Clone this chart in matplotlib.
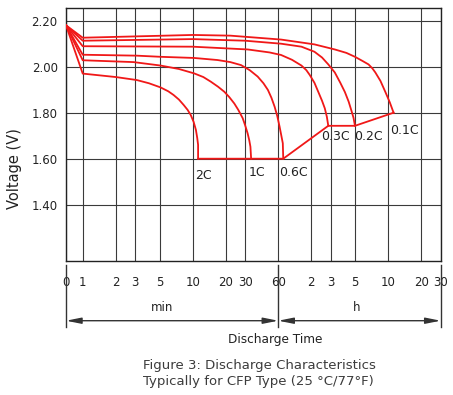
#!/usr/bin/env python

# ------------------------------------------------------------------------
# Imports

import numpy as np
import matplotlib
matplotlib.use('Agg')
import matplotlib.pyplot as plt
from matplotlib import transforms

# ------------------------------------------------------------------------
# Data (time in minutes, voltage in V)

t_2c = [0, 1, 2, 3.1, 4, 5.1, 6, 6.7, 7.5, 8.3, 9, 9.6, 10.2, 10.7, 11.0, 11.2, 11.2]
v_2c = [2.18, 1.970, 1.955, 1.942, 1.928, 1.910, 1.893, 1.877, 1.857, 1.833,
        1.812, 1.790, 1.760, 1.725, 1.690, 1.660, 1.60]

t_1c = [0, 1, 2.9, 5.1, 7.5, 10.3, 12.5, 14.6, 17, 19.4, 21.5, 23.9, 26, 28.5,
        30, 31.6, 32.7, 33.5, 34]
v_1c = [2.18, 2.028, 2.020, 2.005, 1.990, 1.971, 1.955, 1.935, 1.913, 1.891,
        1.868, 1.840, 1.812, 1.776, 1.745, 1.710, 1.680, 1.652, 1.60]

t_06c = [0, 1, 3.1, 5.1, 10.3, 16.8, 22, 27.5, 33, 39, 44, 48.3, 52, 55.6,
         58.8, 61.7, 64, 66, 66.6]
v_06c = [2.18, 2.052, 2.048, 2.043, 2.038, 2.029, 2.020, 2.007, 1.985, 1.957,
         1.928, 1.899, 1.865, 1.826, 1.785, 1.739, 1.700, 1.667, 1.60]

t_03c = [0, 1, 10, 31.6, 50, 63.6, 80, 97.5, 108, 116, 128, 138, 150, 159, 166, 171]
v_03c = [2.18, 2.089, 2.087, 2.075, 2.062, 2.051, 2.030, 2.005, 1.985, 1.964,
         1.930, 1.893, 1.852, 1.819, 1.782, 1.743]

t_02c = [0, 1, 10, 30, 63.6, 97.5, 128, 150, 171, 196, 220, 242, 262, 278, 290, 299]
v_02c = [2.18, 2.113, 2.120, 2.113, 2.100, 2.087, 2.065, 2.040, 2.010, 1.975,
         1.930, 1.890, 1.848, 1.808, 1.778, 1.743]

t_01c = [0, 1, 10, 22, 63.6, 128, 196, 250, 299, 350, 397, 430, 458, 510, 564, 620, 671]
v_01c = [2.18, 2.126, 2.138, 2.135, 2.118, 2.097, 2.075, 2.060, 2.043, 2.025,
         2.010, 1.993, 1.975, 1.938, 1.891, 1.845, 1.80]

# end-of-discharge line joining the curve ends
t_end = [11.2, 34, 66.6, 171, 299, 671]
v_end = [1.60, 1.60, 1.60, 1.743, 1.743, 1.80]

rate_labels = ['2C', '1C', '0.6C', '0.3C', '0.2C', '0.1C']

xtick_pos = [0, 1, 2, 3, 5, 10, 20, 30, 60, 120, 180, 300, 600, 1200, 1800]
xtick_labels = ['0', '1', '2', '3', '5', '10', '20', '30', '60',
                '2', '3', '5', '10', '20', '30']
ytick_pos = [1.40, 1.60, 1.80, 2.00, 2.20]

# ------------------------------------------------------------------------
# Parameters

W, H = 453, 395
lineColor = '#f01818'
gridColor = '#3a3a3a'
textColor = '#222222'

# label offsets from curve ends, in pixels (dx right, dy up)
labelOffsets = [(5, -17), (6, -14), (10, -14), (7, -11), (13, -11), (11, -18)]

ZERO_W = 0.152  # width of the 0..1 min stretch, in decades


def fwd(t):
    t = np.asarray(t, dtype=float)
    return np.where(t >= 1, np.log10(np.maximum(t, 1)), (t - 1) * ZERO_W)


def inv(u):
    u = np.asarray(u, dtype=float)
    return np.where(u >= 0, 10 ** np.minimum(u, 10), u / ZERO_W + 1)

# ------------------------------------------------------------------------
# Plotting

fig = plt.figure(figsize=(W / 100., H / 100.), dpi=100)
ax = fig.add_axes([66. / W, 1 - 261. / H, 374.7 / W, 253. / H])

ax.set_xscale('function', functions=(fwd, inv))
ax.set_xlim(0, 1800)
ax.set_ylim(1.1552, 2.2552)

curves = [(t_2c, v_2c), (t_1c, v_1c), (t_06c, v_06c),
          (t_03c, v_03c), (t_02c, v_02c), (t_01c, v_01c)]

for (t, v), lab, (dx, dy) in zip(curves, rate_labels, labelOffsets):
    ax.plot(t, v, color=lineColor, lw=1.3, zorder=3, solid_joinstyle='round')
    ax.annotate(lab, xy=(t[-1], v[-1]), xytext=(dx * 0.72, dy * 0.72),
                textcoords='offset points', ha='center', va='center',
                fontsize=9, color=textColor)

ax.plot(t_end, v_end, color=lineColor, lw=1.3, zorder=3)

ax.set_xticks(xtick_pos)
ax.set_xticklabels(xtick_labels)
ax.set_yticks(ytick_pos)
ax.set_yticklabels(['%.2f' % y for y in ytick_pos])
ax.tick_params(axis='x', length=0, pad=11, labelsize=8.5, labelcolor=textColor)
ax.tick_params(axis='y', length=0, pad=6, labelsize=8.5, labelcolor=textColor)
ax.minorticks_off()

ax.grid(True, color=gridColor, lw=0.8)
for sp in ax.spines.values():
    sp.set_color('#222222')
    sp.set_linewidth(1.0)

# extension lines and time-unit arrows below the axes
trans = transforms.blended_transform_factory(ax.transData, ax.transAxes)
for xv in [0, 60, 1800]:
    ax.plot([xv, xv], [-0.016, -0.261], transform=trans, clip_on=False,
            color='#333333', lw=1.0)

yArr = -0.236
for x0, x1 in [(0, 60), (60, 1800)]:
    ax.annotate('', xy=(x0, yArr), xytext=(x1, yArr),
                xycoords=trans, textcoords=trans,
                arrowprops=dict(arrowstyle='<|-|>,head_length=0.9,head_width=0.18',
                                color='#333333', lw=1.0,
                                shrinkA=0, shrinkB=0))

ax.text(0.2575, -0.185, 'min', transform=ax.transAxes, ha='center',
        va='center', fontsize=8.5, color=textColor)
ax.text(0.776, -0.185, 'h', transform=ax.transAxes, ha='center',
        va='center', fontsize=8.5, color=textColor)

fig.text(15. / W, 1 - 169. / H, 'Voltage (V)', rotation=90, ha='center',
         va='center', fontsize=10.5, color=textColor)
fig.text(275. / W, 1 - 339. / H, 'Discharge Time', ha='center',
         va='center', fontsize=8.7, color=textColor)

fig.text(143. / W, 1 - 365. / H, 'Figure 3: Discharge Characteristics',
         ha='left', va='center', fontsize=9.5, color='#3c3c3c')
fig.text(143. / W, 1 - 382. / H, 'Typically for CFP Type (25 \u00b0C/77\u00b0F)',
         ha='left', va='center', fontsize=9.5, color='#3c3c3c')

fig.savefig('out.png', dpi=100)
